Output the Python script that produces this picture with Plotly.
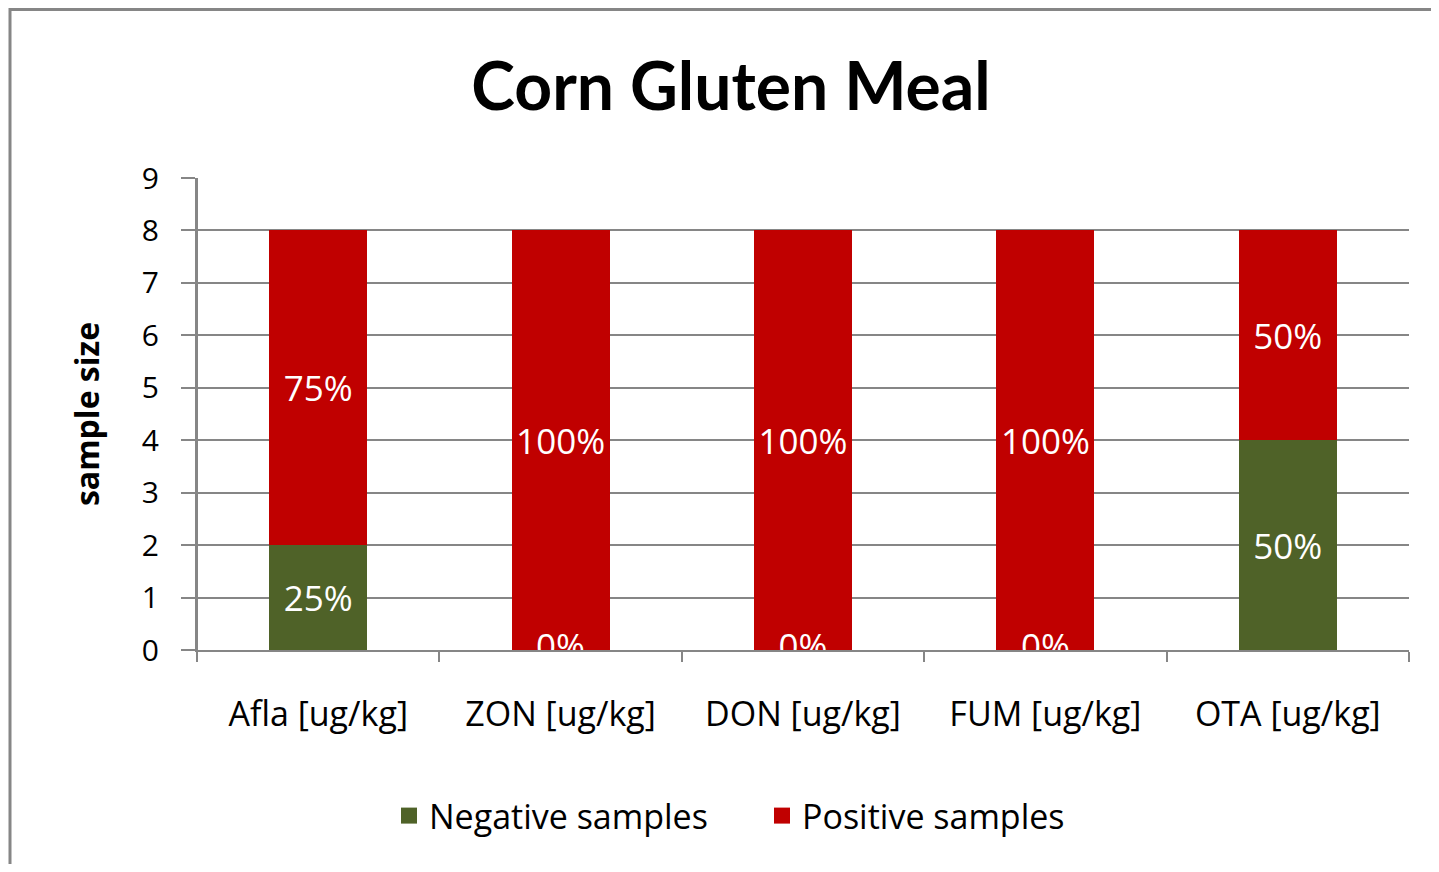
import plotly.graph_objects as go

categories = ["Afla [ug/kg]", "ZON [ug/kg]", "DON [ug/kg]", "FUM [ug/kg]", "OTA [ug/kg]"]
negative = [2, 0, 0, 0, 4]
positive = [6, 8, 8, 8, 4]
y_ticks = [0, 1, 2, 3, 4, 5, 6, 7, 8, 9]

GREEN = "#4F6228"
RED = "#C00000"
GRID = "#868686"
FONT = "Open Sans"
TFONT = "Lato"

totals = [n + p for n, p in zip(negative, positive)]
neg_pct = [f"{round(100 * n / t)}%" for n, t in zip(negative, totals)]
pos_pct = [f"{round(100 * p / t)}%" for p, t in zip(positive, totals)]

LBL = 35

fig = go.Figure()
fig.add_trace(go.Bar(
    x=categories, y=negative, name="Negative samples", legendgroup="neg", showlegend=False,
    marker=dict(color=GREEN, line=dict(width=0)),
    text=[t if v > 0 else "" for t, v in zip(neg_pct, negative)],
    textposition="inside", insidetextanchor="middle", textangle=0,
    textfont=dict(family=FONT, size=LBL, color="white"),
))
fig.add_trace(go.Bar(
    x=categories, y=positive, name="Positive samples", legendgroup="pos", showlegend=False,
    marker=dict(color=RED, line=dict(width=0)),
    text=[t if v > 0 else "" for t, v in zip(pos_pct, positive)],
    textposition="inside", insidetextanchor="middle", textangle=0,
    textfont=dict(family=FONT, size=LBL, color="white"),
))
# zero-height labels sitting on the baseline (clipped by plot area)
zero_cats = [c for c, v in zip(categories, negative) if v == 0]
zero_txt = [t for t, v in zip(neg_pct, negative) if v == 0]
fig.add_trace(go.Scatter(
    x=zero_cats, y=[0] * len(zero_cats), mode="text", text=zero_txt,
    textposition="middle center", cliponaxis=True, showlegend=False,
    textfont=dict(family=FONT, size=LBL, color="white"), hoverinfo="skip",
))
# legend entries (larger square swatches)
for nm, col, grp in [("Negative samples", GREEN, "neg"), ("Positive samples", RED, "pos")]:
    fig.add_trace(go.Scatter(
        x=[None], y=[None], mode="markers", name=nm, legendgroup=grp,
        marker=dict(symbol="square", size=22, color=col, line=dict(width=0)),
        showlegend=True, hoverinfo="skip",
    ))

OFF = 8  # page body margin
W, H = 1439 - 2 * OFF, 872 - 2 * OFF
L, R, T, B = 197 - OFF, 1409 - OFF, 178 - OFF, 650 - OFF
pw, ph = R - L, B - T


def px_x(x):  # page px -> paper
    return (x - OFF - L) / pw


def px_y(y):
    return (B - (y - OFF)) / ph


fig.update_layout(
    width=W, height=H,
    margin=dict(l=L, r=W - R, t=T, b=H - B, autoexpand=False),
    paper_bgcolor="white", plot_bgcolor="white",
    barmode="stack", bargap=0.596,
    font=dict(family=FONT, color="black"),
    title=dict(text="<b>Corn Gluten Meal</b>", x=(731 - OFF) / W, xref="container", xanchor="center",
               y=1 - (87 - OFF) / H, yref="container", yanchor="middle",
               font=dict(family=TFONT, size=66, color="black")),
    uniformtext=dict(minsize=LBL, mode="show"),
    showlegend=True,
    legend=dict(orientation="h", x=px_x(762), xanchor="center", y=px_y(816), yanchor="middle",
                font=dict(family=FONT, size=34, color="black"), traceorder="normal",
                itemsizing="trace",
                bgcolor="rgba(0,0,0,0)", itemwidth=30, entrywidth=328, entrywidthmode="pixels"),
    xaxis=dict(
        type="category", showgrid=False, showline=True, linecolor=GRID, linewidth=2,
        ticks="outside", tickson="boundaries", ticklen=10, tickcolor=GRID, tickwidth=2,
        tickfont=dict(family=FONT, size=34, color="black"), ticklabelstandoff=33,
        zeroline=False,
    ),
    yaxis=dict(
        range=[0, 9], tickvals=y_ticks, showgrid=True, gridcolor=GRID, gridwidth=2,
        showline=True, linecolor=GRID, linewidth=2,
        ticks="outside", ticklen=14, tickcolor=GRID, tickwidth=2,
        tickfont=dict(family=FONT, size=30, color="black"), ticklabelstandoff=16,
        zeroline=False,
        title=dict(text="<b>sample size</b>", font=dict(family=FONT, size=32, color="black"), standoff=33),
    ),
    shapes=[
        dict(type="rect", xref="paper", yref="paper",
             x0=px_x(10), x1=px_x(1460), y0=px_y(9.5), y1=px_y(900),
             line=dict(color=GRID, width=3), fillcolor="rgba(0,0,0,0)", layer="below"),
        dict(type="line", xref="paper", yref="paper",
             x0=0, x1=0, y0=px_y(660), y1=1, line=dict(color=GRID, width=2)),
    ],
)

fig.write_html("out.html")
